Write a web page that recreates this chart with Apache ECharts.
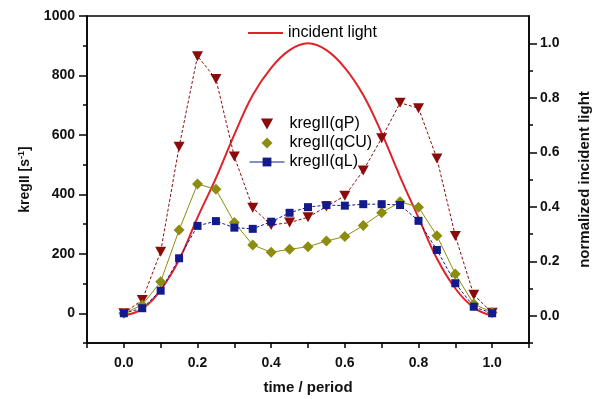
<!DOCTYPE html>
<html>
<head>
<meta charset="utf-8">
<script src="https://cdn.jsdelivr.net/npm/echarts@6/dist/echarts.min.js"></script>
<style>html,body{margin:0;padding:0;background:#fff}#c{width:592px;height:399px}</style>
</head>
<body>
<div id="c"></div>
<script>
var times = [0, 0.05, 0.1, 0.15, 0.2, 0.25, 0.3, 0.35, 0.4, 0.45, 0.5, 0.55, 0.6, 0.65, 0.7, 0.75, 0.8, 0.85, 0.9, 0.95, 1.0];
var qP  = [0, 45, 207, 560, 865, 788, 527, 355, 297, 305, 323, 359, 395, 480, 589, 708, 690, 521, 260, 62, 2];
var qCU = [0, 28, 106, 280, 435, 417, 305, 230, 205, 215, 224, 243, 258, 295, 338, 375, 357, 261, 132, 31, 3];
var qL  = [0, 17, 76, 185, 294, 310, 288, 284, 308, 338, 357, 364, 362, 367, 367, 364, 311, 213, 101, 22, 0];
var light = [0, 0.025, 0.095, 0.205, 0.36, 0.505, 0.665, 0.81, 0.91, 0.975, 1.0, 0.975, 0.91, 0.81, 0.67, 0.51, 0.36, 0.21, 0.1, 0.03, 0];
var xMajor = [0, 0.2, 0.4, 0.6, 0.8, 1.0];
var xMinor = [-0.1, 0.1, 0.3, 0.5, 0.7, 0.9, 1.1];
var yMajor = [0, 200, 400, 600, 800, 1000];
var yMinor = [-100, 100, 300, 500, 700, 900];
var rMajor = [0, 0.2, 0.4, 0.6, 0.8, 1.0];
var rMinor = [-0.1, 0.1, 0.3, 0.5, 0.7, 0.9];

function pairs(ys) { return times.map(function (t, i) { return [t, ys[i]]; }); }

var FF = 'Liberation Sans, Arial, sans-serif';
var lab = { fontFamily: FF, fontSize: 14, fontWeight: 'bold', color: '#111' };
var axLine = { show: true, onZero: false, lineStyle: { color: '#000', width: 1.5 } };

var chart = echarts.init(document.getElementById('c'), null, { renderer: 'canvas' });
chart.setOption({
  animation: false,
  backgroundColor: '#fff',
  grid: { left: 87, right: 63, top: 16, bottom: 56, outerBoundsMode: 'none', containLabel: false, show: true, borderColor: '#000', borderWidth: 1.5, backgroundColor: 'transparent' },
  legend: [
    {
      data: [{ name: 'incident light', icon: 'rect' }], left: 248, top: 25, padding: 0, itemWidth: 35, itemHeight: 2,
      textStyle: { fontFamily: FF, fontSize: 16, color: '#000' }, selectedMode: false
    },
    {
      orient: 'vertical', left: 249, top: 116, padding: 0, itemWidth: 35, itemHeight: 11, itemGap: 3,
      lineStyle: { type: 'solid', width: 1 },
      data: [
        { name: 'kregII(qP)', icon: 'path://M0,0 L10,0 L5,9 Z' },
        { name: 'kregII(qCU)', icon: 'path://M5,0 L10,5 L5,10 L0,5 Z' },
        { name: 'kregII(qL)' }
      ],
      textStyle: { fontFamily: FF, fontSize: 16, color: '#000', lineHeight: 16 }, selectedMode: false
    }
  ],
  xAxis: {
    type: 'value', min: -0.1, max: 1.1,
    name: 'time / period', nameLocation: 'middle', nameGap: 37,
    nameTextStyle: { fontFamily: FF, fontSize: 15, fontWeight: 'bold', color: '#111' },
    axisLine: axLine,
    axisTick: { show: true, customValues: xMajor.concat(xMinor), length: 5, lineStyle: { color: '#000', width: 1.5 } },
    axisLabel: Object.assign({ customValues: xMajor, margin: 13, formatter: function (v) { return v.toFixed(1); } }, lab),
    splitLine: { show: false }
  },
  yAxis: [
    {
      type: 'value', min: -100, max: 1000, position: 'left',
      name: '{a|kregII [s}{b|-1}{a|]}', nameLocation: 'middle', nameGap: 53, nameRotate: 90,
      nameTextStyle: { rich: { a: { fontFamily: FF, fontSize: 14, fontWeight: 'bold', color: '#111' }, b: { fontFamily: FF, fontSize: 9, fontWeight: 'bold', color: '#111', verticalAlign: 'top', padding: [0, 0, 8, 0] } } },
      axisLine: axLine,
      axisTick: { show: true, customValues: yMajor, length: 8, lineStyle: { color: '#000', width: 1.5 } },
      axisLabel: Object.assign({ customValues: yMajor, margin: 12, formatter: function (v) { return String(Math.round(v)); } }, lab),
      splitLine: { show: false }
    },
    {
      type: 'value', min: -100, max: 1000, position: 'left',
      axisLine: { show: false, onZero: false },
      axisTick: { show: true, customValues: yMinor, length: 4, lineStyle: { color: '#000', width: 1.5 } },
      axisLabel: { show: false },
      splitLine: { show: false }
    },
    {
      type: 'value', min: -0.1, max: 1.1, position: 'right',
      name: 'normalized incident light', nameLocation: 'middle', nameGap: 48, nameRotate: 90,
      nameTextStyle: { fontFamily: FF, fontSize: 15, fontWeight: 'bold', color: '#111' },
      axisLine: axLine,
      axisTick: { show: true, customValues: rMajor, length: 8, lineStyle: { color: '#000', width: 1.5 } },
      axisLabel: Object.assign({ customValues: rMajor, margin: 11, formatter: function (v) { return v.toFixed(1); } }, lab),
      splitLine: { show: false }
    },
    {
      type: 'value', min: -0.1, max: 1.1, position: 'right',
      axisLine: { show: false, onZero: false },
      axisTick: { show: true, customValues: rMinor, length: 4, lineStyle: { color: '#000', width: 1.5 } },
      axisLabel: { show: false },
      splitLine: { show: false }
    }
  ],
  series: [
    {
      name: 'incident light', type: 'line', yAxisIndex: 2, data: pairs(light), smooth: 0.4,
      symbol: 'none', lineStyle: { color: '#e0232a', width: 2 }, itemStyle: { color: '#e0232a' }, z: 2
    },
    {
      name: 'kregII(qP)', type: 'line', yAxisIndex: 0, data: pairs(qP),
      symbol: 'triangle', symbolRotate: 180, symbolSize: [11, 10],
      lineStyle: { color: '#8b0a0a', width: 1, type: [3, 2] }, itemStyle: { color: '#8b0a0a' }, z: 3
    },
    {
      name: 'kregII(qCU)', type: 'line', yAxisIndex: 0, data: pairs(qCU),
      symbol: 'diamond', symbolSize: 11,
      lineStyle: { color: '#8c8c10', width: 1 }, itemStyle: { color: '#8c8c10' }, z: 3
    },
    {
      name: 'kregII(qL)', type: 'line', yAxisIndex: 0, data: pairs(qL),
      symbol: 'rect', symbolSize: 8,
      lineStyle: { color: '#121a8c', width: 1, type: [3, 2] }, itemStyle: { color: '#121a8c' }, z: 3
    }
  ]
});
</script>
</body>
</html>
